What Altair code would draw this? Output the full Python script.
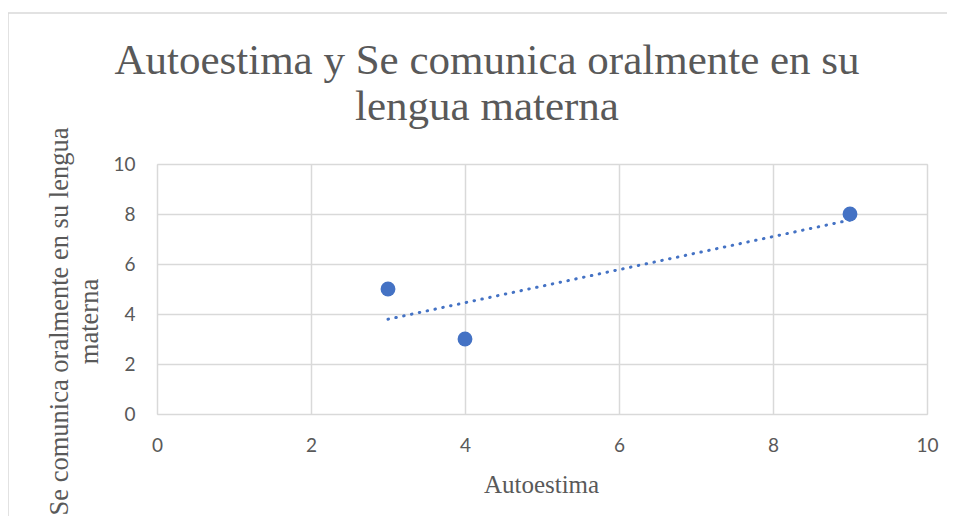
import altair as alt
import pandas as pd

# Data
autoestima = [3, 4, 9]
lengua_materna = [5, 3, 8]
tick_values = [0, 2, 4, 6, 8, 10]

df = pd.DataFrame({"x": autoestima, "y": lengua_materna})

title_lines = ["Autoestima y  Se comunica oralmente en su", "lengua materna"]
x_title = "Autoestima"
y_title = ["Se comunica oralmente en su lengua", "materna"]

GRAY = "#595959"
GRID = "#d9d9d9"
BLUE = "#4472C4"

x_scale = alt.Scale(domain=[0, 10], nice=False)
y_scale = alt.Scale(domain=[0, 10], nice=False)

x_axis = alt.Axis(
    values=tick_values, format="d", grid=True, gridColor=GRID, gridWidth=1.5, domain=False, ticks=False,
    labelFont="Lato", labelFontSize=19, labelColor=GRAY, labelPadding=22, labelFlush=False,
    title=x_title, titleFont="Liberation Serif", titleFontSize=25, titleFontWeight="normal",
    titleColor=GRAY, titleBaseline="alphabetic", titleY=78, titleX=384,
)
y_axis = alt.Axis(
    values=tick_values, format="d", grid=True, gridColor=GRID, gridWidth=1.5, domain=False, ticks=False,
    labelFont="Lato", labelFontSize=19, labelColor=GRAY, labelPadding=22, labelFlush=False,
    title=y_title, titleFont="Liberation Serif", titleFontSize=26.5, titleFontWeight="normal",
    titleColor=GRAY, titleAngle=-90, titleAlign="center", titleBaseline="middle",
    titleX=-98, titleY=157, titleLineHeight=30,
)

frame_data = alt.Data(values=[{"a": 1}])
border_top = alt.Chart(frame_data).mark_rule(color=GRID, strokeWidth=1.5).encode(
    x=alt.value(-149), x2=alt.value(800), y=alt.value(-151)
)
border_left = alt.Chart(frame_data).mark_rule(color=GRID, strokeWidth=1.5).encode(
    x=alt.value(-149), y=alt.value(-151), y2=alt.value(400)
)

title_text = alt.Chart(frame_data).mark_text(
    text=title_lines, font="Liberation Serif", fontSize=43, color=GRAY,
    align="center", baseline="alphabetic", lineHeight=46,
).encode(x=alt.value(330), y=alt.value(-90))

points = alt.Chart(df).mark_point(
    filled=True, size=220, color=BLUE, opacity=1
).encode(
    x=alt.X("x:Q", scale=x_scale, axis=x_axis),
    y=alt.Y("y:Q", scale=y_scale, axis=y_axis),
)

trend = alt.Chart(df).transform_regression("x", "y").mark_line(
    color=BLUE, strokeWidth=3, strokeDash=[0.5, 7.5], strokeCap="round"
).encode(
    x=alt.X("x:Q", scale=x_scale),
    y=alt.Y("y:Q", scale=y_scale),
)

chart = alt.layer(border_top, border_left, title_text, trend, points).properties(
    width=770,
    height=250,
    autosize=alt.AutoSizeParams(type="none"),
    padding={"left": 149, "top": 156, "right": 20, "bottom": 102},
).configure_view(stroke=GRID, strokeWidth=1.5).configure(background="white")

chart.save("out.html", embed_options={"renderer": "svg", "actions": False})
